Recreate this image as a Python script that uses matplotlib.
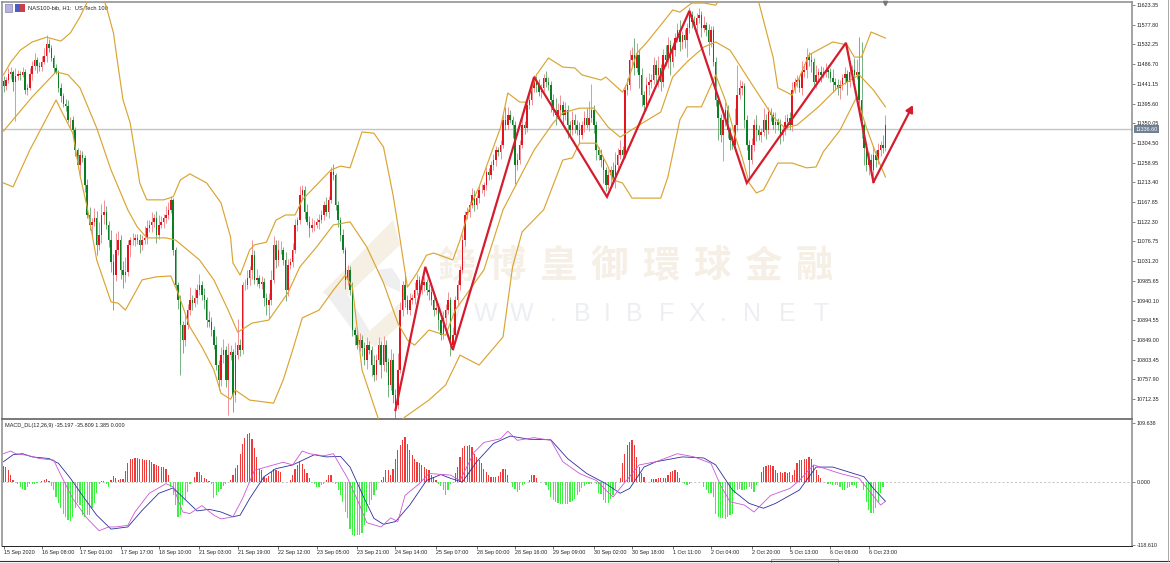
#!/usr/bin/env python3
"""NAS100 H1 candles with Bollinger bands, MACD panel and hand drawn zigzag."""
import numpy as np
import matplotlib
matplotlib.use("Agg")
import matplotlib.pyplot as plt
from matplotlib.patches import Polygon, Rectangle

plt.rcParams["font.family"] = ["Liberation Sans", "DejaVu Sans"]

# hourly closes
closes = [
    11436, 11450, 11464, 11469, 11445, 11459, 11464, 11462, 11469, 11427, 11432, 11464, 11482, 11496, 11482, 11480, 11492, 11506, 11533, 11524,
    11501, 11478, 11469, 11432, 11413, 11395, 11390, 11358, 11358, 11334, 11288, 11254, 11277, 11270, 11207, 11138, 11115, 11122, 11131, 11069,
    11092, 11138, 11145, 11115, 11080, 11029, 10999, 11057, 11080, 11011, 10999, 11006, 11069, 11080, 11080, 11085, 11080, 11069, 11080, 11085,
    11108, 11115, 11122, 11131, 11092, 11115, 11122, 11131, 11138, 11150, 11173, 11057, 10976, 10941, 10884, 10849, 10884, 10918, 10941, 10934,
    10946, 10964, 10976, 10953, 10941, 10895, 10890, 10872, 10837, 10791, 10756, 10814, 10826, 10756, 10814, 10821, 10722, 10814, 10837, 10826,
    10976, 10976, 10992, 11011, 11045, 10988, 10992, 10978, 10983, 10946, 10930, 10941, 10988, 11069, 11034, 11057, 11057, 11034, 10964, 11022,
    11029, 11057, 11115, 11126, 11184, 11196, 11145, 11122, 11108, 11115, 11115, 11122, 11126, 11138, 11161, 11145, 11173, 11237, 11230, 11161,
    11126, 11092, 11057, 10988, 11011, 10964, 10872, 10860, 10837, 10849, 10830, 10803, 10837, 10826, 10791, 10768, 10803, 10837, 10791, 10837,
    10798, 10745, 10803, 10722, 10699, 10780, 10918, 10976, 10941, 10918, 10941, 10946, 10964, 10988, 10964, 10976, 10983, 10964, 10960, 10941,
    10918, 10923, 10895, 10860, 10900, 10918, 10941, 10837, 10860, 10941, 10976, 11011, 11080, 11138, 11145, 11161, 11184, 11161, 11177, 11196,
    11196, 11207, 11237, 11230, 11254, 11265, 11288, 11284, 11300, 11358, 11346, 11369, 11358, 11346, 11254, 11265, 11300, 11346, 11339, 11392,
    11404, 11432, 11450, 11438, 11422, 11432, 11455, 11445, 11438, 11404, 11381, 11369, 11381, 11392, 11369, 11381, 11346, 11334, 11358, 11346,
    11334, 11323, 11346, 11362, 11346, 11362, 11381, 11346, 11288, 11277, 11265, 11242, 11207, 11230, 11242, 11223, 11254, 11277, 11288, 11277,
    11427, 11438, 11496, 11508, 11478, 11508, 11462, 11415, 11392, 11438, 11445, 11450, 11485, 11462, 11478, 11445, 11508, 11496, 11531, 11492,
    11519, 11547, 11566, 11538, 11554, 11543, 11570, 11600, 11584, 11577, 11593, 11600, 11570, 11577, 11566, 11538, 11566, 11492, 11404, 11362,
    11323, 11358, 11381, 11334, 11311, 11300, 11346, 11415, 11432, 11436, 11358, 11300, 11265, 11300, 11346, 11334, 11323, 11330, 11358, 11334,
    11376, 11369, 11346, 11353, 11346, 11323, 11334, 11353, 11362, 11346, 11427, 11445, 11450, 11432, 11469, 11473, 11503, 11496, 11492, 11445,
    11462, 11469, 11462, 11469, 11473, 11469, 11455, 11445, 11438, 11432, 11438, 11455, 11464, 11445, 11469, 11473, 11462, 11469, 11404, 11346,
    11293, 11254, 11265, 11242, 11277, 11265, 11288, 11300, 11293, 11346,
]
wick_up = [
    12, 8, 14, 10, 5, 18, 10, 8, 12, 6,
    8, 14, 12, 16, 7, 10, 14, 18, 22, 12,
    8, 6, 10, 5, 12, 8, 10, 14, 6, 9,
    8, 5, 12, 10, 6, 14, 18, 10, 22, 16,
    30, 25, 28, 14, 10, 24, 18, 40, 22, 12,
    20, 35, 12, 8, 16, 10, 8, 14, 12, 28,
    18, 12, 22, 9, 16, 24, 14, 10, 20, 18,
    10, 5, 8, 6, 12, 8, 22, 14, 30, 12,
    24, 14, 26, 10, 16, 8, 20, 12, 10, 22,
    12, 18, 26, 10, 28, 16, 8, 30, 60, 14,
    8, 14, 18, 10, 35, 12, 20, 8, 14, 10,
    12, 16, 22, 20, 12, 24, 20, 8, 18, 14,
    10, 16, 14, 8, 22, 12, 10, 18, 14, 16,
    12, 8, 14, 12, 10, 18, 8, 12, 20, 6,
    10, 8, 14, 6, 12, 10, 20, 8, 14, 16,
    12, 14, 18, 10, 8, 24, 14, 18, 10, 22,
    12, 10, 24, 16, 14, 40, 18, 10, 26, 12,
    16, 10, 18, 14, 10, 20, 12, 8, 14, 10,
    12, 18, 10, 8, 16, 14, 20, 8, 18, 10,
    12, 8, 14, 10, 12, 10, 16, 12, 8, 10,
    14, 8, 12, 10, 8, 14, 10, 8, 12, 10,
    30, 18, 12, 8, 10, 16, 12, 18, 10, 12,
    8, 10, 12, 10, 14, 8, 10, 16, 12, 10,
    14, 28, 16, 24, 10, 18, 12, 10, 20, 14,
    12, 18, 10, 16, 24, 40, 60, 12, 10, 8,
    14, 10, 8, 12, 10, 18, 30, 16, 24, 10,
    12, 16, 24, 18, 40, 28, 14, 16, 10, 20,
    22, 14, 18, 12, 28, 10, 14, 22, 18, 12,
    20, 12, 16, 22, 10, 14, 12, 18, 10, 14,
    12, 16, 10, 22, 8, 14, 10, 8, 12, 6,
    10, 25, 18, 12, 8, 10, 40, 70, 18, 12,
    8, 10, 12, 16, 14, 24, 12, 10, 28, 14,
    12, 10, 8, 24, 10, 14, 12, 16, 10, 14,
    18, 10, 12, 8, 26, 14, 20, 12, 16, 10,
    22, 8, 14, 10, 16, 12, 8, 20, 10, 14,
    12, 8, 16, 10, 24, 12, 28, 30, 80, 133,
    10, 8, 18, 14, 20, 12, 16, 10, 24, 22,
]
wick_dn = [
    14, 10, 6, 12, 20, 90, 8, 12, 6, 10,
    12, 6, 14, 8, 16, 10, 8, 6, 14, 10,
    8, 12, 6, 10, 14, 8, 12, 6, 22, 10,
    14, 8, 24, 10, 16, 8, 12, 30, 10, 24,
    12, 18, 20, 10, 16, 22, 80, 14, 12, 22,
    30, 16, 10, 28, 12, 14, 8, 18, 12, 10,
    14, 10, 16, 12, 18, 10, 8, 14, 12, 10,
    8, 12, 8, 20, 115, 30, 14, 10, 12, 16,
    8, 14, 10, 12, 20, 16, 10, 14, 8, 12,
    22, 14, 18, 16, 80, 12, 40, 16, 10, 14,
    10, 12, 8, 16, 22, 10, 14, 8, 12, 18,
    24, 30, 12, 8, 18, 14, 10, 12, 26, 14,
    10, 12, 8, 14, 10, 12, 16, 8, 22, 10,
    14, 8, 16, 6, 12, 10, 14, 8, 10, 12,
    16, 14, 8, 20, 12, 10, 14, 22, 10, 14,
    18, 12, 20, 10, 26, 14, 12, 10, 30, 14,
    22, 28, 12, 18, 30, 10, 8, 14, 16, 10,
    12, 8, 14, 10, 16, 8, 14, 12, 18, 10,
    14, 10, 22, 12, 8, 16, 10, 24, 12, 8,
    10, 12, 8, 14, 10, 12, 8, 14, 10, 12,
    8, 14, 12, 10, 8, 12, 14, 10, 16, 8,
    12, 10, 8, 30, 44, 12, 10, 8, 14, 10,
    8, 12, 10, 16, 10, 14, 8, 12, 10, 28,
    14, 22, 10, 16, 24, 12, 30, 14, 10, 18,
    12, 20, 10, 16, 8, 14, 10, 18, 24, 12,
    16, 30, 14, 10, 30, 12, 22, 14, 10, 12,
    8, 12, 10, 14, 16, 10, 30, 24, 18, 12,
    22, 14, 10, 16, 28, 20, 12, 14, 18, 30,
    12, 14, 10, 22, 16, 18, 40, 12, 14, 10,
    16, 12, 20, 10, 14, 30, 12, 10, 14, 50,
    16, 60, 14, 18, 22, 10, 12, 14, 8, 16,
    20, 12, 40, 10, 14, 24, 12, 16, 10, 20,
    8, 14, 10, 18, 12, 22, 14, 10, 16, 12,
    14, 8, 12, 10, 16, 12, 18, 14, 24, 10,
    14, 12, 16, 8, 12, 14, 10, 22, 12, 16,
    26, 10, 14, 30, 12, 8, 16, 10, 20, 30,
    40, 14, 24, 12, 18, 16, 10, 14, 12, 8,
]

# bollinger bands: bar number, price
upper_idx = [0, 3, 7, 12, 18, 24, 28, 32, 35, 37, 40, 43, 46, 48, 50, 53, 56, 57, 59, 60, 67, 71, 74, 78, 85, 91, 95, 96, 99, 103, 105, 110, 114, 118, 122, 125, 137, 141, 145, 150, 155, 159, 163, 165, 169, 173, 177, 180, 188, 191, 195, 199, 208, 211, 216, 219, 223, 228, 234, 239, 242, 250, 252, 259, 261, 265, 269, 275, 280, 283, 288, 293, 298, 304, 312, 316, 322, 324, 330, 332, 337, 347, 353, 356, 359, 363, 369]
upper_val = [11462, 11491, 11519, 11538, 11549, 11540, 11559, 11596, 11630, 11680, 11668, 11620, 11559, 11480, 11404, 11351, 11249, 11212, 11185, 11173, 11173, 11180, 11219, 11233, 11212, 11166, 11087, 11027, 10999, 11057, 11069, 11075, 11126, 11138, 11138, 11173, 11242, 11251, 11247, 11330, 11327, 11295, 11184, 11115, 10971, 11004, 11045, 11050, 11034, 11080, 11154, 11203, 11341, 11420, 11399, 11399, 11462, 11501, 11480, 11478, 11462, 11450, 11457, 11422, 11443, 11512, 11536, 11577, 11612, 11607, 11628, 11628, 11623, 11680, 11700, 11630, 11503, 11432, 11415, 11443, 11508, 11538, 11531, 11503, 11503, 11561, 11547]
middle_idx = [0, 12, 22, 27, 32, 39, 45, 52, 56, 60, 68, 72, 82, 88, 94, 98, 104, 111, 119, 124, 131, 138, 145, 152, 159, 165, 169, 172, 178, 185, 189, 201, 209, 222, 230, 234, 241, 247, 253, 258, 266, 275, 280, 286, 293, 298, 304, 312, 322, 327, 332, 341, 349, 358, 364, 369]
middle_val = [11332, 11411, 11469, 11462, 11432, 11339, 11242, 11150, 11110, 11085, 11085, 11080, 11034, 10988, 10918, 10867, 10888, 10895, 10958, 11018, 11064, 11115, 11122, 11064, 10981, 10888, 10849, 10837, 10872, 10860, 10918, 11011, 11150, 11288, 11351, 11374, 11385, 11385, 11341, 11318, 11346, 11376, 11457, 11492, 11526, 11538, 11519, 11450, 11365, 11339, 11346, 11388, 11432, 11462, 11427, 11388]
lower_idx = [0, 4, 11, 17, 22, 24, 29, 32, 35, 39, 45, 48, 51, 54, 58, 64, 70, 73, 78, 83, 88, 91, 95, 97, 103, 113, 117, 121, 125, 132, 138, 143, 146, 150, 157, 163, 168, 178, 185, 191, 199, 209, 213, 217, 226, 234, 238, 241, 248, 253, 255, 259, 263, 275, 278, 283, 286, 292, 298, 302, 306, 309, 312, 315, 318, 324, 330, 336, 340, 343, 350, 357, 361, 366, 369]
lower_val = [11212, 11203, 11288, 11351, 11404, 11381, 11327, 11230, 11156, 11034, 10937, 10934, 10918, 10948, 10988, 10995, 10997, 10958, 10879, 10833, 10780, 10726, 10712, 10733, 10710, 10703, 10756, 10826, 10900, 10918, 10964, 10999, 10971, 10780, 10664, 10641, 10671, 10710, 10745, 10814, 10791, 10856, 11018, 11099, 11150, 11265, 11270, 11304, 11304, 11249, 11219, 11212, 11177, 11177, 11226, 11358, 11388, 11388, 11462, 11404, 11323, 11272, 11212, 11189, 11196, 11258, 11258, 11247, 11249, 11284, 11334, 11411, 11341, 11265, 11226]

# red trend lines drawn by hand on the chart
zigzag_idx = [164, 176.5, 188, 222, 252.5, 287, 311, 352.5, 364]
zigzag_val = [10687, 11018, 10826, 11457, 11180, 11610, 11212, 11536, 11214]
arrow_end = (380.5, 11392)

macd_hist = [
    29, 27, 21, 12, 2,
    0, -4, -10, -14, -16, -10, -4, -4, -4, -2, 0, 1, 2, 4, 1,
    -8, -16, -29, -41, -50, -60, -66, -72, -74, -66, -50, -41, -44, -63, -66, -63, -63, -50, -41, -22, -4, 1, 1, -4, -10,
    2, 10, 7, 2, 4, 5, 19, 34, 42, 43, 44, 44, 43, 42, 40, 41, 40, 37, 32, 30, 29, 27, 27, 24, 13,
    -10, -26, -44, -66, -63, -44, -35, -19, -4, 0,
    9, 17, 17, 12, 7, 4, 1, -4, -30, -26, -19, -14, -8, -4, 0, 2, 13, 26, 30, 52, 70, 82, 88, 90, 79, 62, 46, 24, 21, 9, 6, 10, 18, 24, 21, 19, 18,
    0, 0, 0, 2, 12, 24, 30, 37, 32, 24, 15, 6, 0, -4, -10, -10, -7, -4, 2, 13, 13, 0, -4, -16, -26, -39, -57, -69, -88, -100, -101, -100, -100, -97, -81, -57, -44, -35, -26, -16,
    0, 2, 9, 21, 21, 12, 24, 43, 59, 68, 77, 83, 71, 59, 49, 43, 37, 34, 30, 27, 24, 21, 13, 9, 2, -4, -8, -16, -26, -16,
    -4, 0, 15, 27, 46, 62, 66, 67, 68, 65, 52, 46, 40, 34, 24, 17, 12, 9, 8, 9, 10, 18, 23, 24, 12, 0, -10, -14, -19, -16, -7, -4, 0, 2, 12, 12, 6, 0, 0, -1,
    -6, -16, -29, -35, -39, -41, -42, -42, -43, -43, -39, -37, -32, -26, -19, -12, -8, -4, -4, -4, 0, -4, -21, -24, -35, -41, -41, -32, -26, -14, -1,
    6, 34, 52, 69, 74, 77, 68, 46, 27, 15, 9, 0, 0, 4, 4, 4, 6, 6, 7, 6, 12, 17, 19, 21, 17, 6, 0, -4, -6, -4, -1, -1, 0, 0, 0,
    -10, -16, -21, -21, -29, -60, -66, -68, -69, -70, -66, -63, -60, -22, -16, -14, -16, -16, -14, -10, -14, -19, -7, 0,
    18, 27, 29, 31, 31, 29, 21, 15, 17, 15, 18, 15, 17, 12, 21, 34, 40, 41, 43, 43, 45, 43, 31, 21, 12, 6, 0,
    -1, -4, -4, -6, -6, -7, -10, -16, -16, -13, -10, -6, -7, -13, 0, -1, -16, -38, -54, -58, -58, -50, -41, -22, -10, -1,
]
blue_idx = [0, 4, 8, 12, 19, 23, 28, 33, 39, 45, 52, 58, 65, 71, 77, 81, 86, 91, 96, 99, 103, 109, 114, 121, 130, 135, 141, 145, 151, 155, 159, 164, 170, 177, 183, 187, 192, 198, 205, 212, 220, 229, 236, 244, 252, 258, 262, 268, 273, 284, 293, 298, 305, 312, 318, 323, 333, 340, 347, 360, 364, 369]
blue_val = [37, 50, 52, 46, 43, 34, 6, -26, -63, -89, -85, -54, -22, -12, -38, -55, -52, -57, -66, -63, -32, 9, 24, 31, 50, 46, 47, 27, -32, -69, -80, -75, -44, 2, 13, 6, -1, 37, 71, 85, 79, 78, 43, 15, -4, -22, -13, 27, 37, 46, 44, 31, -16, -41, -50, -41, -16, 27, 27, 9, -13, -37]
pink_idx = [0, 3, 5, 10, 15, 21, 24, 29, 35, 40, 44, 47, 52, 55, 61, 68, 71, 75, 78, 83, 88, 91, 96, 100, 105, 113, 117, 121, 125, 128, 134, 138, 144, 149, 152, 158, 162, 165, 168, 174, 178, 187, 191, 197, 201, 208, 211, 215, 222, 229, 234, 241, 248, 255, 259, 266, 273, 282, 289, 296, 300, 304, 310, 314, 321, 329, 333, 339, 350, 358, 367, 369]
pink_val = [52, 57, 52, 49, 43, 40, 12, -32, -69, -92, -85, -85, -82, -57, -22, -4, -10, -57, -60, -45, -63, -70, -66, -32, 21, 31, 36, 31, 57, 52, 48, 52, 6, -44, -77, -85, -68, -75, -26, -4, 15, 12, 2, 55, 73, 80, 94, 77, 82, 77, 37, 15, 2, -29, -7, 31, 37, 52, 46, 34, -7, -38, -44, -57, -26, -13, 2, 31, 15, 6, -44, -37]

# axis text
price_ticks = [11623.35, 11577.80, 11532.25, 11486.70, 11441.15, 11395.60, 11350.05, 11304.50, 11258.95, 11213.40, 11167.85,
               11122.30, 11076.75, 11031.20, 10985.65, 10940.10, 10894.55, 10849.00, 10803.45, 10757.90, 10712.35]
time_idx = [0, 16, 32, 49, 65, 82, 98, 115, 131, 148, 164, 181, 198, 214, 230, 247, 263, 280, 296, 313, 329, 346, 362]
time_labels = ["15 Sep 2020", "16 Sep 08:00", "17 Sep 01:00", "17 Sep 17:00", "18 Sep 10:00", "21 Sep 03:00",
               "21 Sep 19:00", "22 Sep 12:00", "23 Sep 05:00", "23 Sep 21:00", "24 Sep 14:00", "25 Sep 07:00",
               "28 Sep 00:00", "28 Sep 16:00", "29 Sep 09:00", "30 Sep 02:00", "30 Sep 18:00", "1 Oct 11:00",
               "2 Oct 04:00", "2 Oct 20:00", "5 Oct 13:00", "6 Oct 06:00", "6 Oct 23:00"]
last_price = 11336.60

W, H = 1170, 563
BAR_PX = 2.39
SMALL = 3.9
GOLD = "#d9a532"
RED = "#e4141e"
GREEN = "#0b7d22"

if not (len(closes) == len(wick_up) == len(wick_dn) == len(macd_hist)):
    raise SystemExit(f"lengths {len(closes)} {len(wick_up)} {len(wick_dn)} {len(macd_hist)}")


def px_axes(fig, left, top, right, bottom):
    return fig.add_axes([left / W, 1 - bottom / H, (right - left) / W, (bottom - top) / H])


def draw_background(fig):
    # watermark, window frame: this axes is in image pixels
    bg = fig.add_axes([0, 0, 1, 1], zorder=-1)
    bg.set_xlim(0, W)
    bg.set_ylim(H, 0)
    bg.axis("off")

    beige = "#f6f0e4"
    grey = "#efeff0"
    bg.add_patch(Polygon([(322, 293), (393, 220), (400, 245), (345, 297)], color=beige, lw=0))
    bg.add_patch(Polygon([(325, 293), (345, 290), (372, 335), (360, 340)], color=grey, lw=0))
    bg.add_patch(Polygon([(362, 338), (400, 303), (400, 325), (375, 347)], color=beige, lw=0))
    bg.add_patch(Polygon([(377, 270), (392, 268), (400, 280), (400, 292), (385, 285)], color=grey, lw=0))

    cjk = ["Noto Sans CJK TC", "DejaVu Sans"]
    for i, ch in enumerate("鎊博皇御環球金融"):
        bg.text(456 + i * 51.2, 266, ch, fontsize=27, color="#f6efe6", family=cjk, weight="bold", ha="center", va="center")
    url_x = [450, 486, 522, 553, 582, 607, 634, 667, 697, 723, 752, 787, 821]
    for x, ch in zip(url_x, "WWW.BIBFX.NET"):
        bg.text(x, 314, ch, fontsize=18, color="#eceef2", ha="center", va="center")

    bg.plot([0, W], [560.5, 560.5], color="#333333", lw=0.8)
    bg.add_patch(Rectangle((771, 559), 67, 4, facecolor="#f6f6f6", edgecolor="#888888", lw=0.5))
    bg.plot([1167.5, 1167.5], [0, 561], color="#999999", lw=0.6)
    # chart icon next to the symbol name
    bg.add_patch(Rectangle((5, 4), 7, 8, facecolor="#b9b3dc", edgecolor="#6b6bb0", lw=0.4))
    bg.add_patch(Rectangle((15, 4), 4.5, 8, facecolor="#4a5fc0", lw=0))
    bg.add_patch(Rectangle((20, 4), 4.5, 8, facecolor="#c8404a", lw=0))
    bg.text(28, 8, "NAS100-bib, H1:  US Tech 100", fontsize=4.15, color="#222222", va="center")
    return bg


def draw_price(fig):
    ax = px_axes(fig, 2, 2, 1132, 419)
    ax.patch.set_alpha(0)
    x = np.arange(len(closes))
    c = np.array(closes, dtype=float)
    o = np.r_[c[0] + 12, c[:-1]]
    hi = np.maximum(o, c) + np.array(wick_up)
    lo = np.minimum(o, c) - np.array(wick_dn)
    up = c >= o

    ax.vlines(x[up], lo[up], hi[up], color="#ef7f86", lw=0.6, zorder=2)
    ax.vlines(x[~up], lo[~up], hi[~up], color="#5fa56c", lw=0.6, zorder=2)
    ax.bar(x[up], (c - o)[up], bottom=o[up], width=0.62, color=RED, lw=0, zorder=3)
    ax.bar(x[~up], (c - o)[~up], bottom=o[~up], width=0.62, color=GREEN, lw=0, zorder=3)

    ax.plot(upper_idx, upper_val, color=GOLD, lw=0.85, zorder=4)
    ax.plot(middle_idx, middle_val, color=GOLD, lw=0.85, zorder=4)
    ax.plot(lower_idx, lower_val, color=GOLD, lw=0.85, zorder=4)
    ax.axhline(last_price, color="#c4c4c4", lw=1.0, zorder=1)

    ax.plot(zigzag_idx, zigzag_val, color="#d51c2e", lw=1.6, zorder=5, solid_joinstyle="miter")
    ax.annotate("", xy=arrow_end, xytext=(zigzag_idx[-1], zigzag_val[-1]), zorder=5,
                arrowprops=dict(arrowstyle="-|>,head_width=0.22,head_length=0.4", color="#d51c2e", lw=1.6,
                                shrinkA=0, shrinkB=0))
    ax.plot([369], [11628], marker="v", ms=3, color="#777777", clip_on=False, zorder=5)

    ax.set_xlim(-(3.5 - 2) / BAR_PX, (1132 - 3.5) / BAR_PX)
    ax.set_ylim(10666.3, 11630.4)
    ax.set_xticks([])
    ax.yaxis.tick_right()
    ax.set_yticks(price_ticks)
    ax.set_yticklabels([f"{t:.2f}" for t in price_ticks], fontsize=SMALL, color="#222222")
    ax.tick_params(axis="y", length=2, width=0.5, pad=1.5, color="#555555")
    ax.text(1.0028, (last_price - 10666.3) / (11630.4 - 10666.3), f"{last_price:.2f}", transform=ax.transAxes,
            fontsize=SMALL, color="white", va="center", ha="left", zorder=6,
            bbox=dict(boxstyle="square,pad=0.3", facecolor="#6f7f95", edgecolor="none"), clip_on=False)

    for name, spine in ax.spines.items():
        spine.set_color("#8a8a8a")
        spine.set_linewidth(1.1)
    ax.spines["bottom"].set_color("#555555")
    return ax


def draw_macd(fig):
    ax = px_axes(fig, 2, 420, 1132, 546)
    ax.patch.set_alpha(0)
    x = np.arange(len(macd_hist))
    h = np.array(macd_hist, dtype=float)
    ax.axhline(0, color="#aaaaaa", lw=0.5, ls=(0, (3, 3)), zorder=1)
    ax.bar(x[h > 0], h[h > 0], width=0.5, color="#f03a3a", lw=0, zorder=2)
    ax.bar(x[h < 0], h[h < 0], width=0.5, color="#3cf040", lw=0, zorder=2)
    ax.plot(blue_idx, blue_val, color="#2a2f9c", lw=0.6, zorder=3)
    ax.plot(pink_idx, pink_val, color="#cc55d8", lw=0.6, zorder=3)

    ax.set_xlim(-(3.5 - 2) / BAR_PX, (1132 - 3.5) / BAR_PX)
    ax.set_ylim(-120.6, 115)
    ax.yaxis.tick_right()
    ax.set_yticks([109.638, 0, -118.61])
    ax.set_yticklabels(["109.638", "0.000", "-118.610"], fontsize=SMALL, color="#222222")
    ax.tick_params(axis="y", length=2, width=0.5, pad=1.5, color="#555555")
    ax.set_xticks(time_idx)
    ax.set_xticklabels(time_labels, fontsize=SMALL, color="#222222", ha="left")
    ax.tick_params(axis="x", length=2, width=0.5, pad=1.2, color="#333333")
    ax.text(0.003, 0.955, "MACD_DL(12,26,9) -35.197 -35.809 1.385 0.000", transform=ax.transAxes,
            fontsize=4.0, color="#222222", va="center")
    ax.spines["top"].set_visible(False)
    ax.spines["left"].set_color("#8a8a8a")
    ax.spines["left"].set_linewidth(1.1)
    ax.spines["right"].set_color("#8a8a8a")
    ax.spines["right"].set_linewidth(1.1)
    ax.spines["bottom"].set_color("#222222")
    ax.spines["bottom"].set_linewidth(0.7)
    return ax


def main():
    fig = plt.figure(figsize=(W / 100, H / 100), dpi=100, facecolor="white")
    draw_background(fig)
    draw_price(fig)
    draw_macd(fig)
    fig.savefig("out.png", dpi=100)
    plt.close(fig)


if __name__ == "__main__":
    main()
